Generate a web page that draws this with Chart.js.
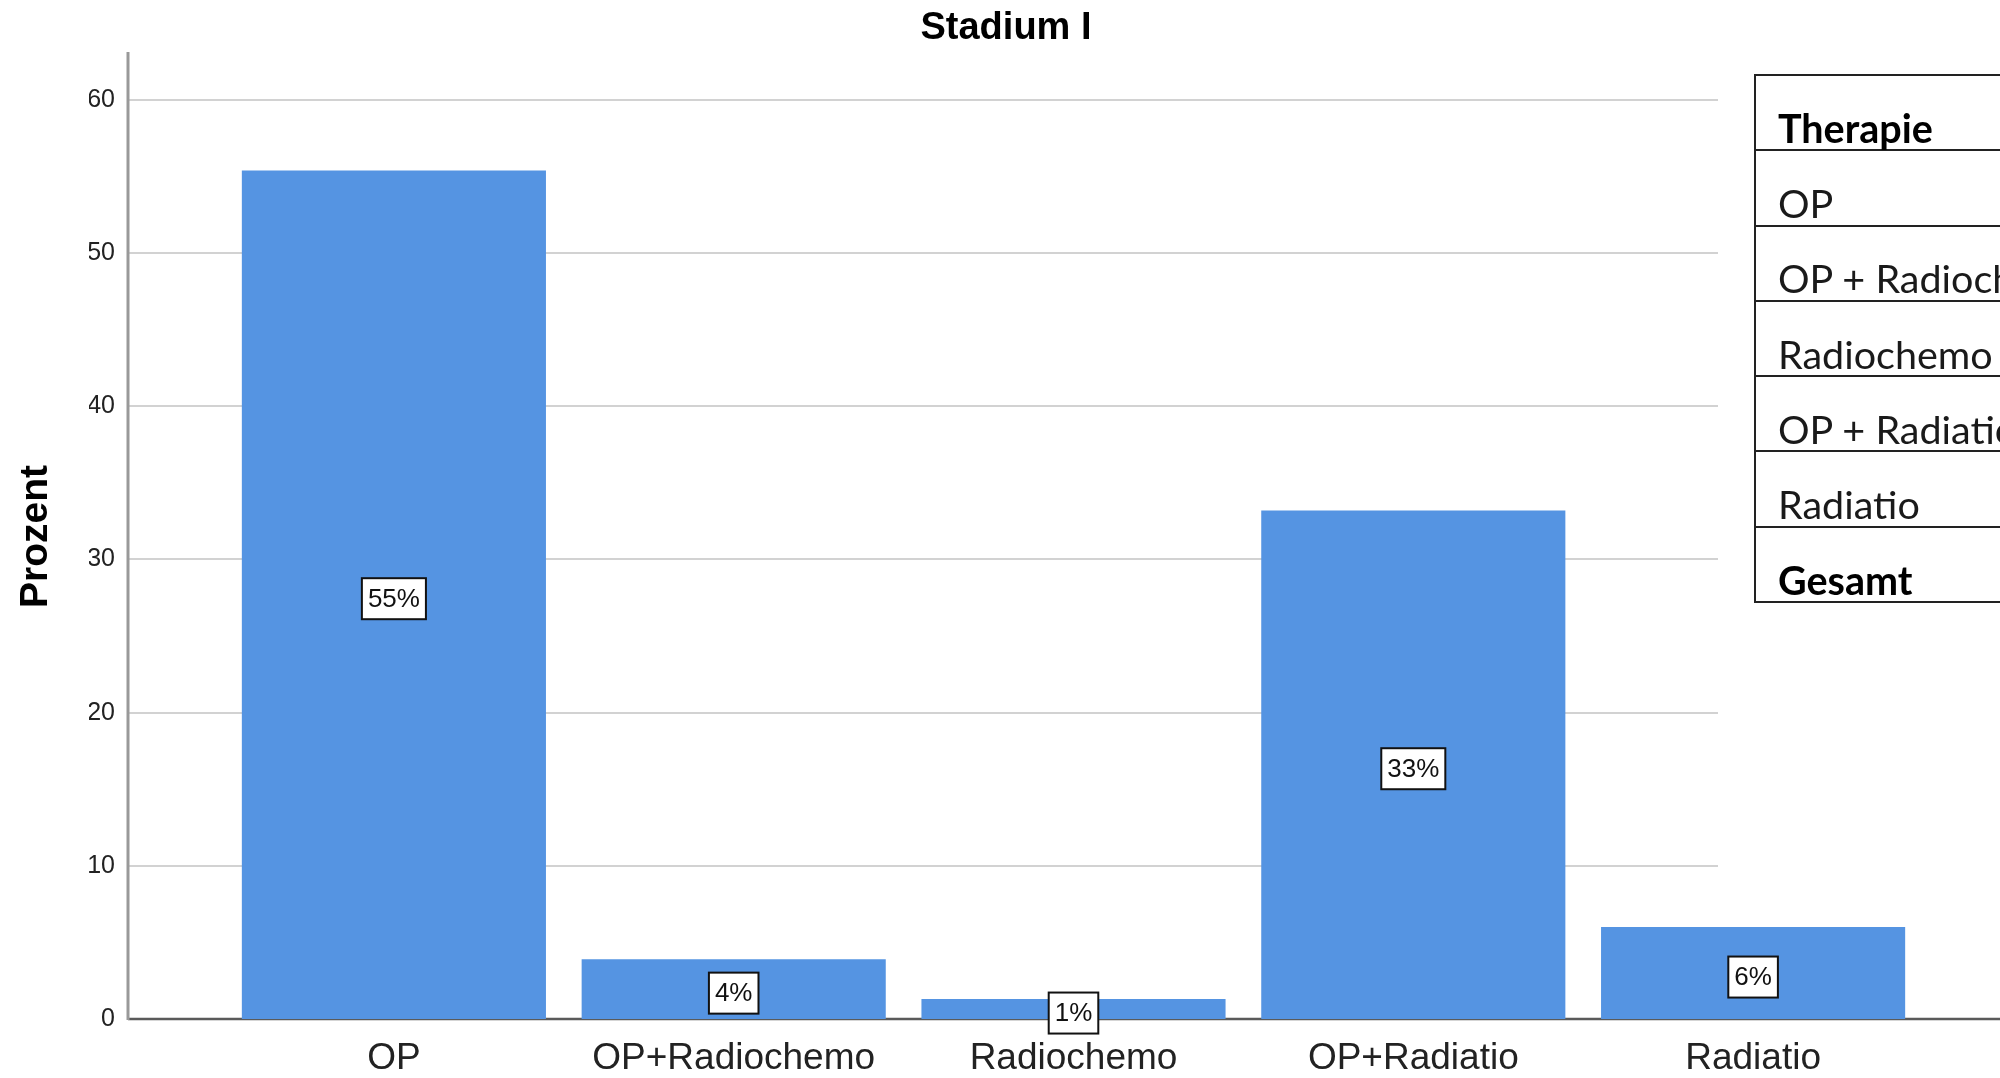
<!DOCTYPE html>
<html>
<head>
<meta charset="utf-8">
<script src="https://cdn.jsdelivr.net/npm/chart.js@4/dist/chart.umd.min.js"></script>
<style>
  body { margin: 0; overflow: hidden; background: #fff; }
  #wrap { position: relative; width: 2000px; height: 1078px; }
  #therapyTable {
    position: absolute; left: 1754px; top: 74px; width: 420px;
    border: 2px solid #222; border-bottom: none;
    font-family: "Lato", "Noto Sans", sans-serif; font-size: 39.5px; color: #1a1a1a;
  }
  #therapyTable div {
    height: 73.3px; border-bottom: 2px solid #222;
    display: flex; align-items: flex-end; padding-left: 22px;
    white-space: nowrap; box-sizing: content-box; line-height: 1.1;
  }
  #therapyTable div.bold { font-weight: bold; color: #000; }
</style>
</head>
<body>
<div id="wrap">
  <canvas id="stadiumChart"></canvas>
  <div id="therapyTable"></div>
</div>
<script>
const categories = ["OP", "OP+Radiochemo", "Radiochemo", "OP+Radiatio", "Radiatio"];
const percentValues = [55.4, 3.9, 1.3, 33.2, 6.0];
const yTicks = [0, 10, 20, 30, 40, 50, 60];
const tableRows = ["Therapie", "OP", "OP + Radiochemo", "Radiochemo", "OP + Radiatio", "Radiatio", "Gesamt"];

// table on the right (cut off by the page edge like in the export)
const table = document.getElementById("therapyTable");
tableRows.forEach((r, i) => {
  const d = document.createElement("div");
  d.textContent = r;
  if (i === 0 || i === tableRows.length - 1) d.className = "bold";
  table.appendChild(d);
});

const axisX = 128;     // where the y axis line sits
const gridEnd = 1718;  // grid lines stop before the table
const padLeft = 89;    // keeps the title centred like the export

const axisLines = {
  id: "axisLines",
  beforeDatasetsDraw(chart) {
    const ctx = chart.ctx;
    const y = chart.scales.y;
    const area = chart.chartArea;
    ctx.save();
    ctx.strokeStyle = "#d2d2d2";
    ctx.lineWidth = 2;
    yTicks.forEach(t => {
      if (t === 0) return;
      const py = Math.round(y.getPixelForValue(t));
      ctx.beginPath();
      ctx.moveTo(axisX, py);
      ctx.lineTo(gridEnd, py);
      ctx.stroke();
    });
    const base = Math.round(y.getPixelForValue(0));
    ctx.strokeStyle = "#5a5a5a";
    ctx.lineWidth = 2.5;
    ctx.beginPath();
    ctx.moveTo(axisX, base);
    ctx.lineTo(2000, base);
    ctx.stroke();
    ctx.strokeStyle = "#999";
    ctx.lineWidth = 3;
    ctx.beginPath();
    ctx.moveTo(axisX, area.top - 2);
    ctx.lineTo(axisX, base + 1);
    ctx.stroke();
    ctx.restore();
  }
};

const valueBoxes = {
  id: "valueBoxes",
  afterDatasetsDraw(chart) {
    const ctx = chart.ctx;
    const y = chart.scales.y;
    const meta = chart.getDatasetMeta(0);
    ctx.save();
    ctx.font = "26px 'Liberation Sans', Arial, sans-serif";
    ctx.textAlign = "center";
    ctx.textBaseline = "middle";
    meta.data.forEach((bar, i) => {
      const v = percentValues[i];
      const txt = Math.round(v) + "%";
      const cy = y.getPixelForValue(v / 2) + 4;
      const w = ctx.measureText(txt).width + 12;
      const h = 41;
      ctx.fillStyle = "#fff";
      ctx.fillRect(bar.x - w / 2, cy - h / 2, w, h);
      ctx.strokeStyle = "#111";
      ctx.lineWidth = 2;
      ctx.strokeRect(bar.x - w / 2, cy - h / 2, w, h);
      ctx.fillStyle = "#111";
      ctx.fillText(txt, bar.x, cy + 1);
    });
    ctx.restore();
  }
};

const ctx = document.getElementById("stadiumChart").getContext("2d");
new Chart(ctx, {
  type: "bar",
  data: {
    labels: categories,
    datasets: [{
      data: percentValues,
      backgroundColor: "#5594e2",
      borderWidth: 0,
      categoryPercentage: 1,
      barPercentage: 0.895
    }]
  },
  options: {
    responsive: true,
    maintainAspectRatio: false,
    animation: false,
    layout: { padding: { left: padLeft, right: 77, top: 0, bottom: 0 } },
    plugins: {
      legend: { display: false },
      tooltip: { enabled: false },
      title: {
        display: true,
        text: "Stadium I",
        color: "#000",
        font: { family: "'Liberation Sans', Arial, sans-serif", size: 38, weight: "bold", lineHeight: 1.2 },
        padding: { top: 6, bottom: 2.4 }
      }
    },
    scales: {
      x: {
        grid: { display: false, drawTicks: false },
        border: { display: false },
        ticks: {
          color: "#222",
          font: { family: "'Liberation Sans', Arial, sans-serif", size: 37 },
          padding: 18,
          maxRotation: 0,
          autoSkip: false
        },
        afterFit(scale) {
          scale.height = 59;
          scale.paddingLeft = 0;
          scale.paddingRight = 0;
        }
      },
      y: {
        min: 0,
        max: 63,
        grid: { display: false, drawTicks: false },
        border: { display: false },
        ticks: {
          stepSize: 10,
          includeBounds: false,
          color: "#222",
          font: { family: "'Liberation Sans', Arial, sans-serif", size: 25 },
          padding: 109
        },
        title: {
          display: true,
          text: "Prozent",
          color: "#000",
          font: { family: "'Liberation Sans', Arial, sans-serif", size: 39, weight: "bold", lineHeight: 1.2 },
          padding: { top: 13 - padLeft, bottom: 0 }
        },
        afterFit(scale) {
          scale.width = 224 - padLeft;
          // big tick padding would otherwise push the plot area down
          scale.paddingTop = 0;
          scale.paddingBottom = 0;
        }
      }
    }
  },
  plugins: [axisLines, valueBoxes]
});
</script>
</body>
</html>
